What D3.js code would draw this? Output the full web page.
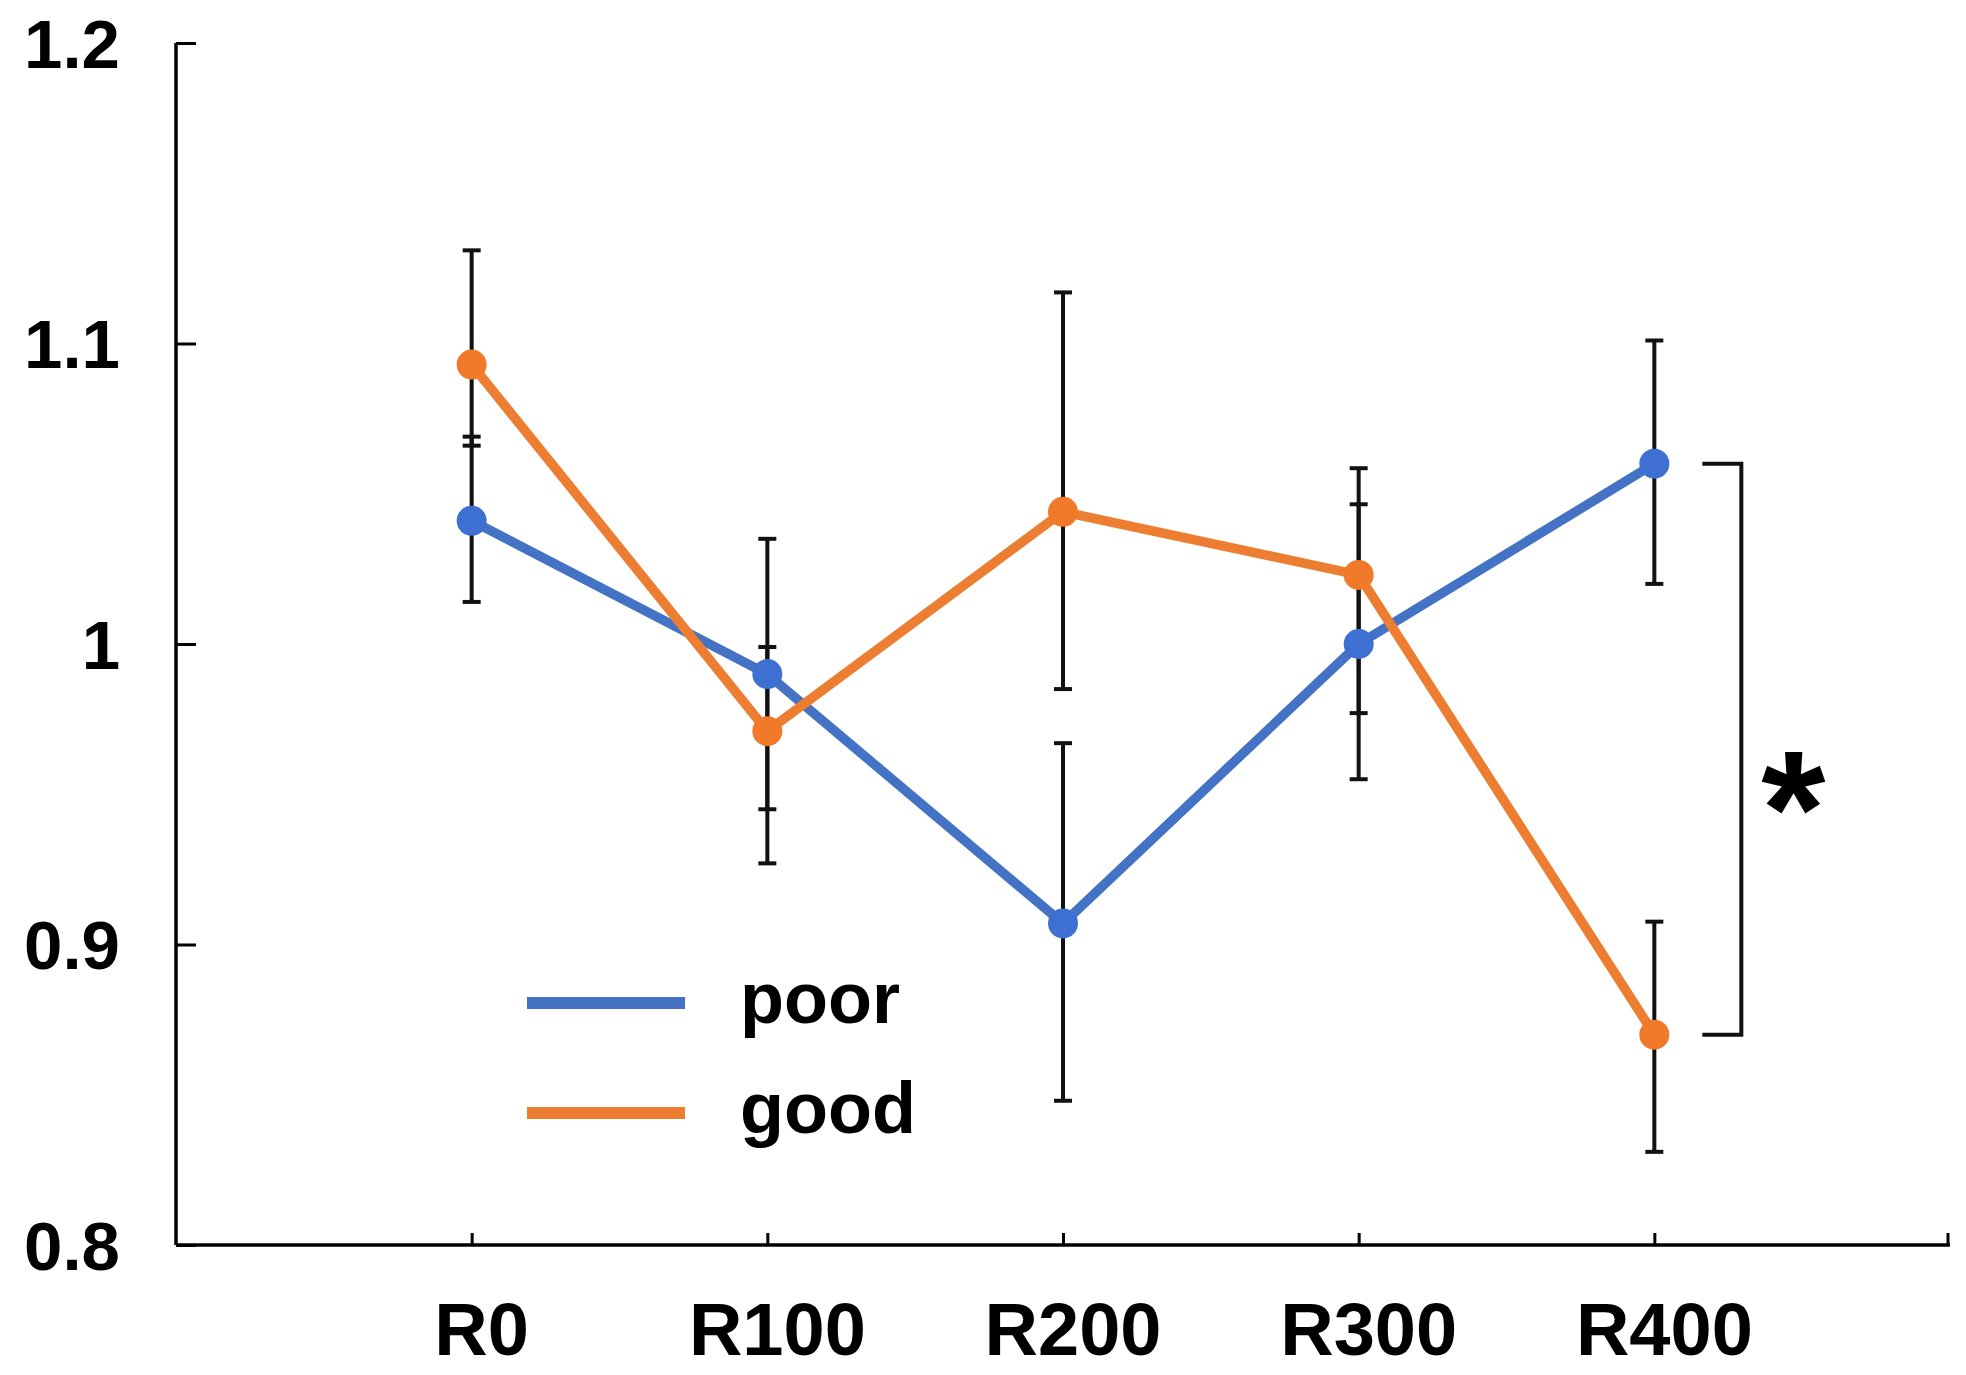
<!DOCTYPE html>
<html>
<head>
<meta charset="utf-8">
<script src="https://cdn.jsdelivr.net/npm/d3@7"></script>
<style>
  html, body { margin: 0; padding: 0; background: #ffffff; }
  svg { display: block; }
  text { font-family: "Liberation Sans", Arial, sans-serif; font-weight: bold; fill: #000; }
</style>
</head>
<body>
<script>
// ---- data ----
const categories = ["R0", "R100", "R200", "R300", "R400"];
const seriesNames = ["poor", "good"];
const poorValues = [1.041, 0.990, 0.907, 1.000, 1.060];
const goodValues = [1.093, 0.971, 1.044, 1.023, 0.870];
const poorLow  = [1.014, 0.945, 0.848, 0.955, 1.020];
const poorHigh = [1.069, 1.035, 0.967, 1.0465, 1.101];
const goodLow  = [1.066, 0.927, 0.985, 0.977, 0.831];
const goodHigh = [1.131, 0.999, 1.117, 1.0585, 0.9076];
const yTicks = [0.8, 0.9, 1.0, 1.1, 1.2];
const yTickLabels = ["0.8", "0.9", "1", "1.1", "1.2"];
const sigLabel = "*";

const W = 1966, H = 1375;
const colors = { poor: "#4472C4", good: "#ED7D31" };
const markerColors = { poor: "#3E6FD2", good: "#F07A2A" };

const svg = d3.select("body").append("svg").attr("width", W).attr("height", H);
svg.append("rect").attr("width", W).attr("height", H).attr("fill", "#fff");

const x = d3.scalePoint().domain(categories).range([176, 1950]).padding(1);
const y = d3.scaleLinear().domain([0.8, 1.2]).range([1245, 43]);

// ---- axes ----
const yAxis = d3.axisLeft(y).tickValues(yTicks).tickSize(-20).tickFormat("");
const gy = svg.append("g").attr("transform", "translate(176,0)").call(yAxis);
gy.select(".domain").attr("stroke", "#000").attr("stroke-width", 3.5).attr("d", `M0,${y(1.2)}V${y(0.8)}`);
gy.selectAll(".tick line").attr("stroke", "#000").attr("stroke-width", 3);

svg.append("g").selectAll("text").data(yTicks).join("text")
  .attr("x", 120).attr("y", d => y(d)).attr("dy", "0.36em")
  .attr("text-anchor", "end").attr("font-size", 69)
  .text((d, i) => yTickLabels[i]);

const xAxis = d3.axisBottom(x).tickSize(-12).tickFormat("");
const gx = svg.append("g").attr("transform", `translate(0,${y(0.8)})`).call(xAxis);
gx.select(".domain").attr("stroke", "#000").attr("stroke-width", 3.5).attr("d", `M176,0H1950`);
gx.selectAll(".tick line").attr("stroke", "#000").attr("stroke-width", 3);
gx.append("line").attr("x1", 1948).attr("x2", 1948).attr("y1", 0).attr("y2", -12)
  .attr("stroke", "#000").attr("stroke-width", 3);

svg.append("g").selectAll("text").data(categories).join("text")
  .attr("x", d => x(d) + 10).attr("y", 1355)
  .attr("text-anchor", "middle").attr("font-size", 74)
  .text(d => d);

// ---- series ----
const series = [
  { name: "poor", values: poorValues, low: poorLow, high: poorHigh },
  { name: "good", values: goodValues, low: goodLow, high: goodHigh }
];

// error bars
const capW = 9;
series.forEach(s => {
  const g = svg.append("g");
  categories.forEach((c, i) => {
    const cx = x(c);
    g.append("line").attr("x1", cx).attr("x2", cx)
      .attr("y1", y(s.low[i])).attr("y2", y(s.high[i]))
      .attr("stroke", "#111").attr("stroke-width", 4);
    [s.low[i], s.high[i]].forEach(v => {
      g.append("line").attr("x1", cx - capW).attr("x2", cx + capW)
        .attr("y1", y(v)).attr("y2", y(v))
        .attr("stroke", "#111").attr("stroke-width", 4);
    });
  });
});

const line = d3.line().x((d, i) => x(categories[i])).y(d => y(d));
series.forEach(s => {
  svg.append("path").datum(s.values).attr("d", line)
    .attr("fill", "none").attr("stroke", colors[s.name]).attr("stroke-width", 9.5)
    .attr("stroke-linejoin", "round");
  svg.append("g").selectAll("circle").data(s.values).join("circle")
    .attr("cx", (d, i) => x(categories[i])).attr("cy", d => y(d)).attr("r", 15)
    .attr("fill", markerColors[s.name]);
});

// ---- significance bracket ----
const last = categories.length - 1;
const bx1 = x(categories[last]) + 48, bx2 = x(categories[last]) + 87;
svg.append("path")
  .attr("d", `M${bx1},${y(poorValues[last])}H${bx2}V${y(goodValues[last])}H${bx1}`)
  .attr("fill", "none").attr("stroke", "#111").attr("stroke-width", 4);
svg.append("text").attr("x", bx2 + 52).attr("y", (y(poorValues[last]) + y(goodValues[last])) / 2 + 117)
  .attr("text-anchor", "middle").attr("font-size", 165).text(sigLabel);

// ---- legend ----
const legendY = [1003, 1113];
seriesNames.forEach((n, i) => {
  svg.append("line").attr("x1", 527).attr("x2", 685).attr("y1", legendY[i]).attr("y2", legendY[i])
    .attr("stroke", colors[n]).attr("stroke-width", 12);
  svg.append("text").attr("x", 740).attr("y", legendY[i] + 20)
    .attr("font-size", 72).text(n);
});
</script>
</body>
</html>
